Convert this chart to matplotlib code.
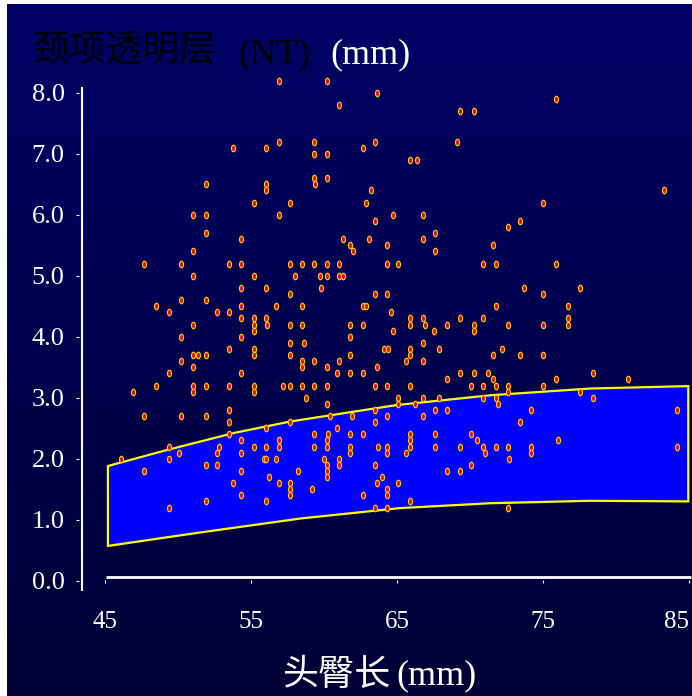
import numpy as np
import matplotlib.pyplot as plt
from matplotlib.path import Path
from matplotlib.transforms import Affine2D

plt.rcParams['font.family'] = ['Liberation Serif', 'Noto Sans CJK SC']

# NT (mm) levels and the CRL (mm) of every case recorded at that level
nt_levels = [8.2, 8.0, 7.9, 7.8, 7.7, 7.2, 7.1, 7.0, 6.9, 6.6, 6.5, 6.4, 6.2, 6.0,
             5.9, 5.8, 5.7, 5.6, 5.5, 5.4, 5.2, 5.0, 4.8, 4.7, 4.6, 4.5, 4.4, 4.3,
             4.2, 4.1, 4.0, 3.9, 3.8, 3.7, 3.6, 3.5, 3.4, 3.3, 3.2, 3.1, 3.0, 2.9,
             2.8, 2.7, 2.6, 2.5, 2.4, 2.3, 2.2, 2.1, 2.0, 1.9, 1.8, 1.7, 1.6, 1.5,
             1.4, 1.3, 1.2]
crl_at_level = [
    [56.9, 60.2],
    [63.6],
    [75.9],
    [61.0],
    [69.3, 70.3],
    [56.9, 59.3, 63.5, 69.1],
    [53.8, 56.0, 62.7],
    [59.3, 60.2],
    [65.9, 66.4],
    [59.3, 60.2],
    [51.9, 56.0, 59.4],
    [56.0, 63.2, 83.3],
    [55.2, 57.7, 62.9, 75.0],
    [51.0, 51.9, 56.9, 64.7, 66.8],
    [63.5, 73.4],
    [72.6],
    [51.9, 67.6],
    [54.3, 61.3, 63.1, 66.8],
    [61.8, 64.3, 71.6],
    [51.0, 62.0, 67.6],
    [47.7, 50.2, 53.5, 54.3, 57.7, 58.5, 59.3, 60.2, 61.0, 64.3, 65.1, 70.9, 71.8, 75.9],
    [51.0, 55.2, 58.0, 59.7, 60.2, 61.0, 61.3],
    [54.3, 56.0, 59.8, 73.7, 77.5],
    [57.7, 63.5, 64.3, 75.0],
    [50.2, 51.9],
    [48.5, 54.3, 56.7, 58.5, 62.7, 62.9, 71.8, 76.7],
    [49.4, 52.7, 53.5, 64.6],
    [54.3, 55.2, 56.0, 65.9, 66.8, 69.3, 70.9, 76.7],
    [51.0, 55.2, 56.1, 57.7, 58.5, 61.8, 62.7, 65.9, 66.9, 68.4, 70.3, 72.6, 75.0, 76.7],
    [55.2, 64.7, 67.5, 70.3],
    [50.2, 54.3, 61.8],
    [57.7, 58.6, 66.8],
    [53.5, 55.2, 64.1, 64.4, 65.9, 67.9, 72.2],
    [51.0, 51.4, 51.9, 55.2, 57.7, 61.8, 65.9, 71.6, 73.4, 75.0],
    [50.2, 58.5, 59.3, 61.0, 65.6, 66.8],
    [51.0, 58.5, 60.2, 63.6],
    [49.4, 54.3, 60.9, 61.8, 62.7, 69.3, 70.3, 71.2, 78.4],
    [68.4, 71.6, 75.9, 80.8],
    [48.5, 51.0, 51.9, 53.5, 55.2, 57.2, 57.7, 58.5, 59.3, 60.2, 63.5, 64.3, 65.9,
     70.1, 70.9, 71.8, 72.6, 75.0],
    [46.9, 51.0, 55.2, 72.6, 77.5],
    [58.8, 65.1, 66.8, 67.9, 70.9, 71.8, 78.4],
    [60.2, 65.1, 66.2, 71.9],
    [53.5, 63.5, 67.6, 68.4, 74.2, 84.2],
    [47.7, 50.2, 51.9, 60.4, 61.9, 64.3, 66.8],
    [53.5, 57.7, 63.5, 73.4],
    [56.0, 60.9],
    [53.5, 59.3, 60.3, 61.8, 62.7, 65.9, 67.6, 70.1],
    [54.3, 56.9, 60.2, 65.9, 70.5, 76.0],
    [49.4, 52.8, 55.2, 56.0, 56.9, 59.3, 60.2, 61.8, 63.7, 64.3, 65.9, 67.6, 69.3,
     70.9, 71.8, 72.6, 74.2, 84.2],
    [50.1, 52.7, 54.3, 61.8, 64.3, 65.6, 71.0, 74.2],
    [46.1, 49.4, 55.9, 56.0, 56.7, 60.0, 61.0, 72.7],
    [51.9, 52.7, 60.2, 61.0, 63.5, 70.1],
    [47.7, 54.3, 58.2, 60.2, 68.4, 69.3],
    [56.2, 60.2, 64.0],
    [53.8, 56.9, 57.7, 63.6, 65.1],
    [57.7, 59.2, 64.3],
    [54.3, 57.7, 62.7, 64.3],
    [51.9, 56.0, 65.9],
    [49.4, 63.5, 64.3, 72.6],
]

# reference band (5th - 95th centile)
band_crl_upper = [45.2, 49.2, 53.8, 57.7, 62.0, 65.0, 71.4, 78.2, 84.95]
band_nt_upper = [1.88, 2.14, 2.42, 2.61, 2.77, 2.88, 3.04, 3.15, 3.19]
band_crl_lower = [45.2, 51.5, 58.4, 65.2, 71.4, 78.2, 84.95]
band_nt_lower = [0.57, 0.79, 1.02, 1.19, 1.27, 1.31, 1.30]

x_ticks = [45, 55, 65, 75, 85]
y_ticks = [0, 1, 2, 3, 4, 5, 6, 7, 8]

crl = np.concatenate([np.asarray(c) for c in crl_at_level])
nt = np.repeat(nt_levels, [len(c) for c in crl_at_level])

W, H = 692, 696
px45, px_per_mm = 105.0, 14.6
py0, py_per_unit = 580.7, 61.0
xlim = (43.0, 85.2)
ylim = (-0.2, 8.4)

fig = plt.figure(figsize=(W / 100, H / 100), dpi=100)
fig.patch.set_facecolor('white')

# navy backdrop, a little darker towards the bottom
bg = fig.add_axes([7 / W, 0, 1 - 7 / W, 1 - 4 / H])
top = np.array([0x00, 0x00, 0x66]) / 255
bottom = np.array([0x00, 0x00, 0x36]) / 255
t = np.linspace(0, 1, 256)[:, None, None]
bg.imshow(top + (bottom - top) * t, aspect='auto', extent=[0, 1, 0, 1])
bg.axis('off')

left = px45 + (xlim[0] - 45) * px_per_mm
right = px45 + (xlim[1] - 45) * px_per_mm
upper = py0 - ylim[1] * py_per_unit
lower = py0 - ylim[0] * py_per_unit
ax = fig.add_axes([left / W, 1 - lower / H, (right - left) / W, (lower - upper) / H])
ax.set_xlim(xlim)
ax.set_ylim(ylim)
ax.patch.set_alpha(0)

ax.fill(np.r_[band_crl_upper, band_crl_lower[::-1]],
        np.r_[band_nt_upper, band_nt_lower[::-1]],
        facecolor='#0000ff', edgecolor='#ffff00', lw=1.6, joinstyle='miter', zorder=2)

ellipse = Path.unit_circle().transformed(Affine2D().scale(0.62, 1.0))
ax.plot(crl, nt, ls='none', marker=ellipse, ms=4.7, mfc='#e0001c', mec='#f4d000',
        mew=0.85, clip_on=False, zorder=3)

# axis lines sit slightly apart from their tick marks
ax.plot([43.44, 43.44], [-0.164, 8.10], color='white', lw=1.5, solid_capstyle='butt')
ax.plot([45.07, 85.14], [0.066, 0.066], color='white', lw=2.0, solid_capstyle='butt')

for s in ax.spines.values():
    s.set_visible(False)
ax.spines['left'].set_position(('data', 43.25))
ax.spines['bottom'].set_position(('data', 0.01))
ax.set_xticks(x_ticks)
ax.set_xticklabels([str(v) for v in x_ticks])
ax.set_yticks(y_ticks)
ax.set_yticklabels([f'{v:.1f}' for v in y_ticks])
ax.tick_params(colors='white', direction='out', length=2.3, width=0.8)
ax.tick_params(axis='y', pad=8.3, labelsize=19)
ax.tick_params(axis='x', pad=20, labelsize=18)
ax.xaxis.get_major_ticks()[-1].label1.set_horizontalalignment('right')


def at(px, py):
    return px / W, 1 - py / H


fig.text(*at(33, 61), '颈项透明层', family='Noto Sans CJK SC', fontsize=26.5,
         color='black', va='baseline')
fig.text(*at(238, 63), '(NT)', family='Liberation Serif', fontsize=26,
         color='black', va='baseline')
fig.text(*at(330, 63), '(mm)', family='Liberation Serif', fontsize=26,
         color='white', va='baseline')

fig.text(*at(282, 685), '头臀长', family='Noto Sans CJK SC', fontsize=26,
         color='white', va='baseline')
fig.text(*at(396, 684), '(mm)', family='Liberation Serif', fontsize=26,
         color='white', va='baseline')

fig.savefig('out.png', dpi=100, facecolor=fig.get_facecolor())
